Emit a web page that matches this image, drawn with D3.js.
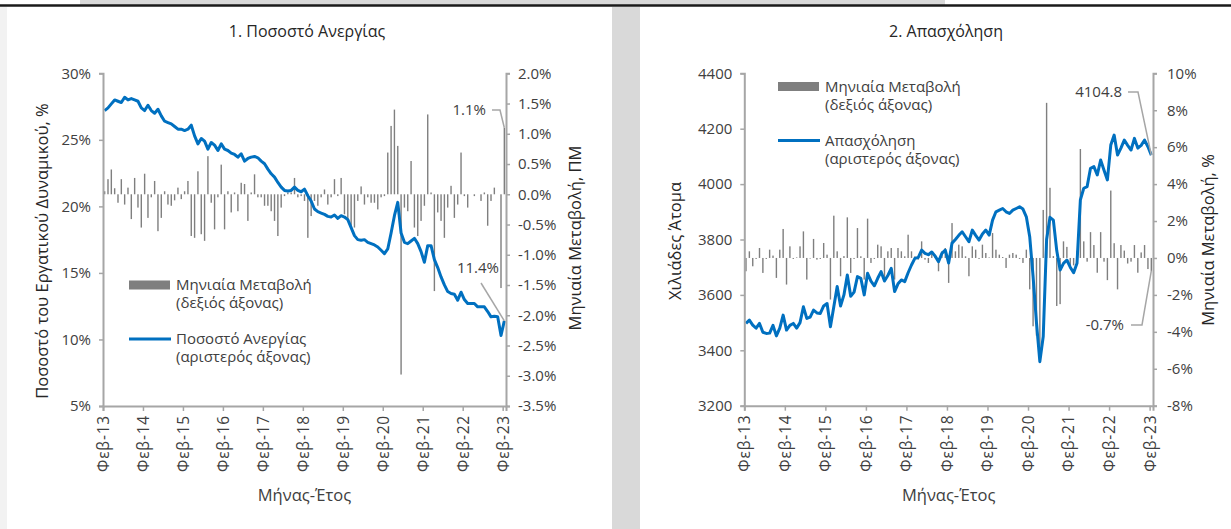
<!DOCTYPE html>
<html>
<head>
<meta charset="utf-8">
<script src="https://cdn.jsdelivr.net/npm/d3@7"></script>
<style>
  body { margin: 0; background: #fff; }
  text { font-family: "Open Sans", Roboto, sans-serif; fill: #404040; }
</style>
</head>
<body>
<div id="chart"></div>
<script>
// Monthly data, Feb-13 .. Feb-23 (121 months)
var tickLabels = ["Φεβ-13", "Φεβ-14", "Φεβ-15", "Φεβ-16", "Φεβ-17", "Φεβ-18",
  "Φεβ-19", "Φεβ-20", "Φεβ-21", "Φεβ-22", "Φεβ-23"];

// 1. unemployment rate, % (left axis)
var unempRate = [
  27.2, 27.4, 27.7, 28.0, 27.9, 27.8, 28.2, 28.0, 28.1, 28.0,
  27.9, 27.4, 27.2, 27.6, 27.2, 27.0, 27.3, 26.8, 26.4, 26.3,
  26.2, 26.0, 25.8, 25.8, 25.7, 25.8, 26.1, 25.3, 24.7, 25.1,
  24.9, 24.3, 24.8, 24.6, 24.2, 24.7, 24.3, 24.2, 24.0, 23.9,
  23.7, 23.95, 23.4, 23.6, 23.7, 23.75, 23.65, 23.4, 23.2, 22.8,
  22.45, 22.2, 21.8, 21.45, 21.2, 21.15, 21.2, 21.45, 21.2, 21.1,
  21.3, 20.8, 20.4, 19.8, 19.6, 19.5, 19.4, 19.25, 19.2, 19.35,
  19.1, 19.3, 19.2, 19.0, 18.4, 17.8, 17.5, 17.45, 17.5, 17.3,
  17.2, 17.1, 16.95, 16.7, 16.45, 16.8, 18.0, 19.3, 20.3, 18.0,
  17.3, 17.2, 17.4, 17.6, 17.2, 16.6, 15.8, 17.05, 17.05, 16.0,
  15.4, 14.7, 14.1, 13.6, 13.45, 13.4, 12.95, 13.55, 13.0, 12.7,
  12.7, 12.7, 12.45, 12.45, 12.45, 12.1, 11.7, 11.75, 11.7, 10.3,
  11.4
];

// 1. monthly change, pp (right axis)
var unempChange = [
  0.05, 0.25, 0.41, 0.10, -0.14, 0.25, -0.17, 0.11, -0.41, 0.27,
  -0.22, -0.55, 0.34, -0.39, -0.05, 0.22, -0.61, -0.39, 0.05, -0.17,
  -0.19, -0.10, 0.11, -0.08, 0.05, 0.22, -0.69, -0.72, 0.38, -0.66,
  -0.77, 0.63, -0.14, -0.58, -0.05, 0.49, -0.58, 0.05, -0.30, 0.03,
  -0.28, 0.19, 0.17, -0.44, 0.03, 0.33, -0.05, -0.05, -0.19, -0.19,
  -0.28, -0.44, -0.69, -0.22, -0.03, 0.03, 0.03, 0.27, -0.05, -0.03,
  -0.11, -0.72, -0.36, -0.11, -0.19, -0.05, 0.08, -0.17, -0.05, 0.25,
  -0.03, 0.27, -0.33, -0.41, -0.52, -0.55, -0.11, 0.13, -0.17, -0.05,
  -0.14, -0.14, -0.25, -0.05, -0.03, 0.69, 1.13, 1.40, 0.80, -2.98,
  -0.22, -0.28, 0.55, -0.55, -0.69, -0.44, -0.19, 1.32, 0.03, -1.60,
  -0.30, -0.44, -0.72, -0.22, 0.14, -0.39, -0.17, 0.69, -0.03, -0.22,
  0.00, -0.03, 0.00, -0.11, 0.03, -0.52, -0.11, 0.11, 0.00, -1.55,
  1.10
];

// 2. employment, thousands (left axis)
var employment = [
  3497, 3509, 3491, 3480, 3497, 3465, 3461, 3462, 3490, 3452,
  3480, 3527, 3473, 3490, 3497, 3480, 3500, 3557, 3515, 3520,
  3545, 3535, 3533, 3560, 3569, 3485, 3557, 3630, 3560, 3600,
  3672, 3595, 3610, 3666, 3660, 3600, 3678, 3650, 3633, 3660,
  3684, 3650, 3670, 3696, 3612, 3640, 3654, 3648, 3680, 3708,
  3732, 3735, 3762, 3750, 3745, 3755, 3740, 3720, 3750, 3762,
  3715, 3787, 3800, 3815, 3828, 3810, 3792, 3834, 3815, 3798,
  3820, 3834, 3816, 3870, 3900, 3906, 3912, 3900, 3894, 3906,
  3912, 3918, 3910, 3882, 3810, 3666, 3500, 3359, 3450, 3800,
  3880, 3870, 3760, 3690, 3714, 3726, 3700, 3680, 3714, 3943,
  3985, 3991, 4057, 4063, 4033, 4087, 4050, 4015, 4141, 4177,
  4105, 4130, 4159, 4140, 4123, 4165, 4130, 4140, 4159, 4135,
  4104.8
];

// 2. monthly change, % (right axis)
var employmentChange = [
  -0.72, 0.36, -0.45, -0.05, 0.54, -0.81, -0.05, 0.45, 0.13, -1.08,
  0.45, 1.57, -1.44, 0.63, -0.05, 0.03, 0.63, 1.44, -1.17, -0.03,
  1.03, -0.09, -0.05, 0.81, 0.18, -2.25, 2.29, 0.36, -0.99, 0.10,
  2.20, -0.81, -0.05, 1.62, 0.09, -1.17, 2.13, -0.27, -0.05, 0.72,
  0.63, -1.08, 0.36, 0.54, -1.17, 0.54, 0.36, 0.09, 1.26, 0.36,
  0.09, -0.09, 0.90, -0.09, -0.27, 0.36, 0.18, -0.72, 0.36, 0.54,
  -1.35, 1.89, 0.36, 0.72, 0.63, 0.09, -0.99, 0.63, 0.45, -0.05,
  0.72, 0.27, 0.03, 1.35, 0.45, 0.18, 0.05, -0.54, 0.18, 0.27,
  0.18, -0.05, -0.27, 0.45, -1.70, -3.70, -4.20, -5.50, 2.60, 8.40,
  3.80, 0.10, -2.60, -2.50, 0.90, 0.60, -0.50, -0.40, 0.40, 5.90,
  0.90, -0.20, 1.40, 0.70, -0.80, 1.40, -0.20, -1.20, 3.65, 0.80,
  -1.70, 0.70, 0.40, -0.30, -0.20, 0.70, -0.80, 0.30, 0.70, -0.60,
  -0.70
];

var svgWidth = 1231;
var svgHeight = 529;
var axisColor = "#a6a6a6";
var barColor = "#7f7f7f";
var lineColor = "#0070c0";

var svg = d3.select("#chart")
  .append("svg")
  .attr("width", svgWidth)
  .attr("height", svgHeight);

// page background pieces (cropped report page)
svg.append("rect").attr("x", 80).attr("y", 0).attr("width", 865).attr("height", 5).attr("fill", "#d9d9d9");
svg.append("line").attr("x1", 0).attr("x2", svgWidth).attr("y1", 5.5).attr("y2", 5.5)
  .attr("stroke", "#1a1a1a").attr("stroke-width", 2.5);
svg.append("rect").attr("x", 0).attr("y", 7).attr("width", 7).attr("height", svgHeight).attr("fill", "#f2f2f2");
svg.append("rect").attr("x", 612).attr("y", 7).attr("width", 28).attr("height", svgHeight).attr("fill", "#d9d9d9");

function drawPanel(cfg) {
  var g = svg.append("g");
  var n = cfg.line.length;

  var x = d3.scaleLinear().domain([0, n]).range([cfg.x0, cfg.x1]);
  var yL = d3.scaleLinear().domain(cfg.leftDomain).range([cfg.yBottom, cfg.yTop]);
  var yR = d3.scaleLinear().domain(cfg.rightDomain).range([cfg.yBottom, cfg.yTop]);

  // title
  g.append("text")
    .attr("x", cfg.titleX).attr("y", 37)
    .attr("text-anchor", "middle")
    .style("font-size", "16px").style("fill", "#262626")
    .text(cfg.title);

  // bars (right axis)
  g.selectAll(".bar")
    .data(cfg.bars)
    .enter()
    .append("rect")
    .attr("x", (d, i) => x(i + 0.5) - 0.7)
    .attr("width", 1.4)
    .attr("y", d => Math.min(yR(d), yR(0)))
    .attr("height", d => Math.abs(yR(d) - yR(0)))
    .attr("fill", barColor);

  // line (left axis)
  var line = d3.line()
    .x((d, i) => x(i + 0.5))
    .y(d => yL(d));

  g.append("path")
    .datum(cfg.line)
    .attr("d", line)
    .attr("fill", "none")
    .attr("stroke", lineColor)
    .attr("stroke-width", 3)
    .attr("stroke-linejoin", "round");

  // axes
  var leftAxis = d3.axisLeft(yL)
    .tickValues(cfg.leftTicks)
    .tickFormat(cfg.leftFormat)
    .tickSizeOuter(0).tickSize(4).tickPadding(cfg.leftPad);
  var rightAxis = d3.axisRight(yR)
    .tickValues(cfg.rightTicks)
    .tickFormat(cfg.rightFormat)
    .tickSizeOuter(0).tickSize(4).tickPadding(cfg.rightPad);
  var bottomAxis = d3.axisBottom(x)
    .tickValues(d3.range(0, n, 12))
    .tickFormat((d, i) => tickLabels[i])
    .tickSizeOuter(0).tickSize(5);

  var gl = g.append("g").attr("transform", `translate(${cfg.x0},0)`).call(leftAxis);
  var gr = g.append("g").attr("transform", `translate(${cfg.x1},0)`).call(rightAxis);
  var gb = g.append("g").attr("transform", `translate(0,${cfg.yBottom})`).call(bottomAxis);

  [gl, gr, gb].forEach(function(a) {
    a.select(".domain").attr("stroke", axisColor).attr("stroke-width", 2);
    a.selectAll(".tick line").attr("stroke", axisColor).attr("stroke-width", 1.5);
    a.selectAll(".tick text").style("font-size", "15px").style("fill", "#404040")
      .attr("font-family", null);
  });

  gb.selectAll(".tick text")
    .attr("transform", "rotate(-90)")
    .attr("x", -9).attr("y", 0).attr("dy", "0.35em")
    .style("text-anchor", "end")
    .style("font-size", "15.5px")
    .style("letter-spacing", "0.8px");

  // axis titles
  g.append("text")
    .attr("transform", `translate(${cfg.leftTitleX},${cfg.leftTitleY}) rotate(-90)`)
    .attr("text-anchor", "middle").attr("dy", "0.35em")
    .style("font-size", "16.5px").style("fill", "#262626")
    .text(cfg.leftTitle);
  g.append("text")
    .attr("transform", `translate(${cfg.rightTitleX},${cfg.rightTitleY}) rotate(-90)`)
    .attr("text-anchor", "middle").attr("dy", "0.35em")
    .style("font-size", "16.5px").style("fill", "#262626")
    .text(cfg.rightTitle);
  g.append("text")
    .attr("x", (cfg.x0 + cfg.x1) / 2).attr("y", 501)
    .attr("text-anchor", "middle")
    .style("font-size", "16.5px").style("fill", "#404040")
    .text("Μήνας-Έτος");

  // legend
  var lg = g.append("g").attr("transform", `translate(${cfg.legendX},${cfg.legendY})`);
  lg.append("rect").attr("x", 0).attr("y", -4.5).attr("width", 41).attr("height", 9).attr("fill", barColor);
  lg.append("text").attr("x", 47).attr("y", 0).attr("dy", "0.35em").style("font-size", "15px").text("Μηνιαία Μεταβολή");
  lg.append("text").attr("x", 47).attr("y", 18).attr("dy", "0.35em").style("font-size", "15px").text("(δεξιός άξονας)");
  lg.append("line").attr("x1", 0).attr("x2", 42).attr("y1", 54).attr("y2", 54)
    .attr("stroke", lineColor).attr("stroke-width", 3);
  lg.append("text").attr("x", 47).attr("y", 54).attr("dy", "0.35em").style("font-size", "15px").text(cfg.lineName);
  lg.append("text").attr("x", 47).attr("y", 72).attr("dy", "0.35em").style("font-size", "15px").text("(αριστερός άξονας)");

  // end-value callouts
  var xe = x(n - 0.5);
  cfg.callouts.forEach(function(c) {
    var ye = c.axis === "left" ? yL(c.value) : yR(c.value);
    g.append("path")
      .attr("d", d3.line()(c.path.concat([[xe, ye]])))
      .attr("fill", "none").attr("stroke", axisColor).attr("stroke-width", 1.5);
    g.append("text")
      .attr("x", c.tx).attr("y", c.ty).attr("dy", "0.35em")
      .attr("text-anchor", "end")
      .style("font-size", "15px")
      .text(c.label);
  });
}

drawPanel({
  title: "1. Ποσοστό Ανεργίας", titleX: 307,
  line: unempRate, bars: unempChange,
  x0: 103, x1: 506, yTop: 73.3, yBottom: 406,
  leftDomain: [5, 30], rightDomain: [-3.5, 2.0],
  leftTicks: [5, 10, 15, 20, 25, 30], leftFormat: d => d + "%", leftPad: 8,
  rightTicks: d3.range(-3.5, 2.01, 0.5), rightFormat: d => d.toFixed(1) + "%", rightPad: 8,
  leftTitle: "Ποσοστό του Εργατικού Δυναμικού, %", leftTitleX: 42, leftTitleY: 251,
  rightTitle: "Μηνιαία Μεταβολή, ΠΜ", rightTitleX: 575, rightTitleY: 238,
  legendX: 129, legendY: 285, lineName: "Ποσοστό Ανεργίας",
  callouts: [
    { label: "1.1%", value: unempChange[unempChange.length - 1], axis: "right", tx: 486, ty: 110,
      path: [[492, 110], [500, 110]] },
    { label: "11.4%", value: unempRate[unempRate.length - 1], axis: "left", tx: 499, ty: 268,
      path: [[481, 283]] }
  ]
});

drawPanel({
  title: "2. Απασχόληση", titleX: 946,
  line: employment, bars: employmentChange,
  x0: 744.3, x1: 1153, yTop: 73.3, yBottom: 405.7,
  leftDomain: [3200, 4400], rightDomain: [-8, 10],
  leftTicks: d3.range(3200, 4401, 200), leftFormat: d => d, leftPad: 8,
  rightTicks: d3.range(-8, 10.1, 2), rightFormat: d => d + "%", rightPad: 10,
  leftTitle: "Χιλιάδες Άτομα", leftTitleX: 675, leftTitleY: 241,
  rightTitle: "Μηνιαία Μεταβολή, %", rightTitleX: 1208, rightTitleY: 240,
  legendX: 778, legendY: 86.5, lineName: "Απασχόληση",
  callouts: [
    { label: "4104.8", value: employment[employment.length - 1], axis: "left", tx: 1122, ty: 92,
      path: [[1128, 92], [1138, 92]] },
    { label: "-0.7%", value: employmentChange[employmentChange.length - 1], axis: "right", tx: 1124, ty: 325,
      path: [[1131, 325], [1142, 325]] }
  ]
});
</script>
</body>
</html>
